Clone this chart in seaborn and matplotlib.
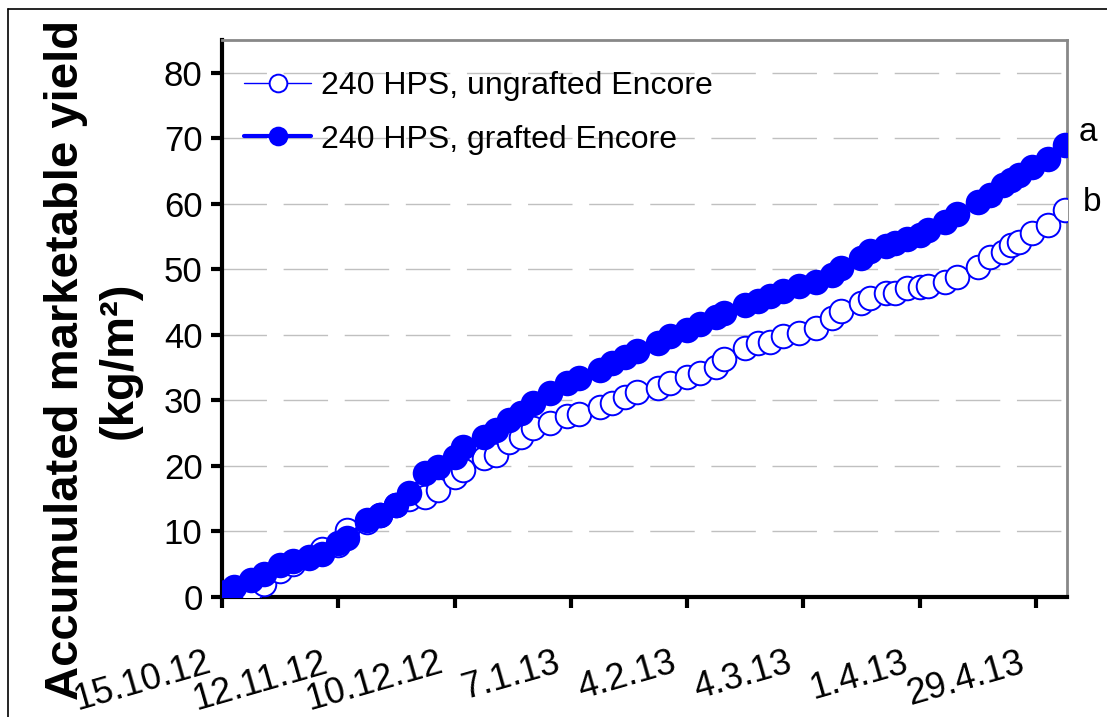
import matplotlib
matplotlib.use("Agg")
import matplotlib.pyplot as plt
import matplotlib.transforms as mtransforms
from matplotlib.lines import Line2D
import seaborn as sns
import pandas as pd

# ---- data ----
harvest_dates = [
    "2012-10-16", "2012-10-18", "2012-10-22", "2012-10-25", "2012-10-29",
    "2012-11-01", "2012-11-05", "2012-11-08", "2012-11-12", "2012-11-14",
    "2012-11-19", "2012-11-22", "2012-11-26", "2012-11-29", "2012-12-03",
    "2012-12-06", "2012-12-10", "2012-12-12", "2012-12-17", "2012-12-20",
    "2012-12-23", "2012-12-26", "2012-12-29", "2013-01-02", "2013-01-06",
    "2013-01-09", "2013-01-14", "2013-01-17", "2013-01-20", "2013-01-23",
    "2013-01-28", "2013-01-31", "2013-02-04", "2013-02-07", "2013-02-11",
    "2013-02-13", "2013-02-18", "2013-02-21", "2013-02-24", "2013-02-27",
    "2013-03-03", "2013-03-07", "2013-03-11", "2013-03-13", "2013-03-18",
    "2013-03-20", "2013-03-24", "2013-03-26", "2013-03-29", "2013-04-01",
    "2013-04-03", "2013-04-07", "2013-04-10", "2013-04-15", "2013-04-18",
    "2013-04-21", "2013-04-23", "2013-04-25", "2013-04-28", "2013-05-02",
    "2013-05-06",
]

ungrafted = [
    0.3, 0.5, 1.0, 2.0, 4.0, 5.0, 6.0, 7.4, 8.0, 10.2,
    11.5, 12.5, 14.0, 15.0, 15.3, 16.3, 18.3, 19.4, 21.2, 21.7,
    23.7, 24.4, 25.8, 26.5, 27.6, 28.0, 29.0, 29.6, 30.5, 31.3,
    31.9, 32.7, 33.6, 34.2, 35.1, 36.3, 38.0, 38.8, 38.9, 39.8,
    40.3, 41.1, 42.6, 43.6, 44.9, 45.6, 46.4, 46.4, 47.2, 47.3,
    47.5, 48.1, 48.9, 50.4, 51.9, 52.7, 53.7, 54.2, 55.6, 56.8,
    59.1,
]

grafted = [
    0.8, 1.5, 2.6, 3.5, 4.9, 5.5, 6.1, 6.6, 8.2, 9.0,
    11.8, 12.5, 14.0, 15.9, 18.9, 19.8, 21.4, 22.9, 24.4, 25.5,
    27.0, 28.1, 29.6, 31.1, 32.7, 33.4, 34.7, 35.7, 36.7, 37.6,
    38.8, 39.8, 40.8, 41.6, 42.8, 43.3, 44.5, 45.2, 46.0, 46.7,
    47.4, 48.0, 49.2, 50.2, 51.8, 52.8, 53.6, 54.0, 54.6, 55.3,
    56.0, 57.3, 58.5, 60.3, 61.3, 62.8, 63.7, 64.4, 65.6, 66.9,
    69.0,
]

series_labels = ["240 HPS, ungrafted Encore", "240 HPS, grafted Encore"]
tick_dates = ["2012-10-15", "2012-11-12", "2012-12-10", "2013-01-07",
              "2013-02-04", "2013-03-04", "2013-04-01", "2013-04-29"]
tick_labels = ["15.10.12", "12.11.12", "10.12.12", "7.1.13",
               "4.2.13", "4.3.13", "1.4.13", "29.4.13"]
y_ticks = [0, 10, 20, 30, 40, 50, 60, 70, 80]
sig_letters = ["b", "a"]

# ---- style ----
sns.set_style("white")
plt.rcParams["font.family"] = ["Liberation Sans", "DejaVu Sans"]
plt.rcParams["text.color"] = "black"
plt.rcParams["axes.labelcolor"] = "black"
plt.rcParams["xtick.color"] = "black"
plt.rcParams["ytick.color"] = "black"

df = pd.DataFrame({"date": pd.to_datetime(harvest_dates),
                   "ungrafted": ungrafted, "grafted": grafted})

fig = plt.figure(figsize=(11.07, 7.17), dpi=100)
ax = fig.add_axes([222 / 1107, 1 - 597 / 717, (1067 - 222) / 1107, (597 - 40) / 717])

blue = "#0000FF"
sns.lineplot(data=df, x="date", y="ungrafted", ax=ax, color=blue, linewidth=1.0,
             marker="o", markersize=17, markerfacecolor="white",
             markeredgecolor=blue, markeredgewidth=1.4, label=series_labels[0],
             zorder=3)
sns.lineplot(data=df, x="date", y="grafted", ax=ax, color=blue, linewidth=3.0,
             marker="o", markersize=17, markerfacecolor=blue,
             markeredgecolor=blue, markeredgewidth=1.4, label=series_labels[1],
             zorder=4)

ax.set_xlim(pd.Timestamp("2012-10-15"), pd.Timestamp("2013-05-06 12:00"))
ax.set_ylim(0, 85)
ax.set_yticks(y_ticks)
ax.set_xticks(pd.to_datetime(tick_dates))
ax.set_xticklabels(tick_labels, rotation=16, ha="right", va="center",
                   rotation_mode="anchor", fontsize=26)
ax.tick_params(axis="x", pad=39)
ax.tick_params(axis="y", labelsize=25, pad=6)
ax.tick_params(axis="both", direction="out", length=8, width=3, color="black",
               bottom=True, left=True)
shift = mtransforms.ScaledTranslation(-12 / 100, 0, fig.dpi_scale_trans)
for lbl in ax.get_xticklabels():
    lbl.set_transform(lbl.get_transform() + shift)

ax.yaxis.grid(True, color="#c0c0c0", linewidth=1.0, linestyle=(0, (32, 12)))
ax.xaxis.grid(False)
ax.set_axisbelow(True)

for side in ["left", "bottom"]:
    ax.spines[side].set_color("black")
    ax.spines[side].set_linewidth(3)
for side in ["top", "right"]:
    ax.spines[side].set_color("#888888")
    ax.spines[side].set_linewidth(2)

ax.set_xlabel("")
ax.set_ylabel("Accumulated marketable yield\n(kg/m²)", fontsize=34,
              fontweight="bold", linespacing=1.3)
ax.yaxis.set_label_coords(-0.095, 0.425)

leg = ax.legend(loc="upper left", bbox_to_anchor=(0.0, 0.985), frameon=False,
                fontsize=23, handlelength=2.1, handletextpad=0.3,
                labelspacing=0.75, markerscale=0.75, borderaxespad=0.3)

# significance letters
last = df.iloc[-1]
ax.annotate(sig_letters[1], xy=(last["date"], last["grafted"]), xytext=(10, 9),
            textcoords="offset points", fontsize=24, ha="left", va="center",
            annotation_clip=False)
ax.annotate(sig_letters[0], xy=(last["date"], last["ungrafted"]), xytext=(13, 5),
            textcoords="offset points", fontsize=24, ha="left", va="center",
            annotation_clip=False)

# figure frame (left and top edges)
fig.add_artist(Line2D([8 / 1107, 8 / 1107], [0, 1 - 9 / 717], transform=fig.transFigure,
                      color="black", linewidth=1.2))
fig.add_artist(Line2D([8 / 1107, 1], [1 - 9 / 717, 1 - 9 / 717], transform=fig.transFigure,
                      color="black", linewidth=1.2))

fig.savefig("out.png", dpi=100)
